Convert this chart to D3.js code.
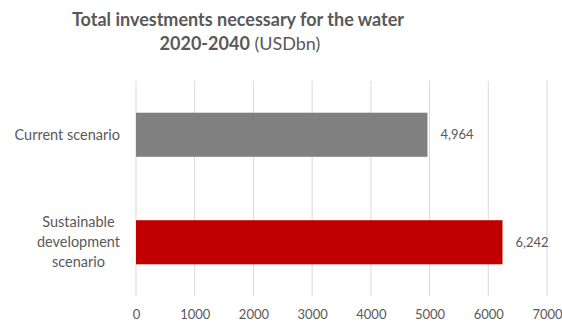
<!DOCTYPE html>
<html><head><meta charset="utf-8">
<script src="https://cdn.jsdelivr.net/npm/d3@7"></script>
<style>body{margin:0;background:#fff}svg text{font-family:Lato,"Open Sans",sans-serif}</style>
</head><body><svg id="c" width="562" height="322"></svg>
<script>
const categories = ["Current scenario", "Sustainable development scenario"];
const categoryLines = [["Current scenario"], ["Sustainable", "development", "scenario"]];
const values = [4964, 6242];
const colors = ["#808080", "#C00000"];
const tickValues = [0, 1000, 2000, 3000, 4000, 5000, 6000, 7000];

const svg = d3.select("#c");
const m = {left: 136, right: 15, top: 81, bottom: 26};
const x = d3.scaleLinear().domain([0, 7000]).range([m.left, 547]);
const y = d3.scaleBand().domain(categories).range([m.top, 296]).paddingInner(0.59).paddingOuter(0.295);

// title
svg.append("text").attr("x", 238).attr("y", 26).attr("text-anchor", "middle")
  .attr("fill", "#595959").attr("font-size", 18).attr("font-weight", "bold")
  .text("Total investments necessary for the water");
const t2 = svg.append("text").attr("x", 240).attr("y", 50).attr("text-anchor", "middle")
  .attr("fill", "#595959").attr("font-size", 18);
t2.append("tspan").attr("font-weight", "bold").text("2020-2040");
t2.append("tspan").text(" (USDbn)");

// gridlines
svg.append("g").selectAll("line").data(tickValues).join("line")
  .attr("x1", d => x(d)).attr("x2", d => x(d)).attr("y1", 81).attr("y2", 296)
  .attr("stroke", "#d9d9d9").attr("stroke-width", 1);

// x axis labels
const ax = svg.append("g").attr("transform", "translate(0,296)")
  .call(d3.axisBottom(x).tickValues(tickValues).tickSize(0).tickPadding(14).tickFormat(d3.format("d")));
ax.select(".domain").remove();
ax.selectAll("text").attr("fill", "#595959").attr("font-size", 13).attr("font-family", "Lato,sans-serif");

// bars
svg.append("g").selectAll("rect").data(values).join("rect")
  .attr("x", x(0)).attr("y", (d, i) => y(categories[i]))
  .attr("width", d => x(d) - x(0)).attr("height", y.bandwidth())
  .attr("fill", (d, i) => colors[i]);

// value labels
svg.append("g").selectAll("text").data(values).join("text")
  .attr("x", d => x(d) + 13).attr("y", (d, i) => y(categories[i]) + y.bandwidth() / 2)
  .attr("dy", "0.35em").attr("fill", "#595959").attr("font-size", 13)
  .text(d => d3.format(",")(d));

// category labels: block right-aligned at 120, lines centered within block
categoryLines.forEach((lines, i) => {
  const cy = y(categories[i]) + y.bandwidth() / 2;
  const lh = 20;
  const txt = svg.append("text").attr("text-anchor", "middle").attr("fill", "#595959").attr("font-size", 14.5);
  const spans = lines.map((l, j) =>
    txt.append("tspan").attr("y", cy + (j - (lines.length - 1) / 2) * lh).attr("dy", "0.35em").text(l));
  const maxW = d3.max(spans, s => s.node().getComputedTextLength());
  spans.forEach(s => s.attr("x", 120 - maxW / 2));
});
</script></body></html>
